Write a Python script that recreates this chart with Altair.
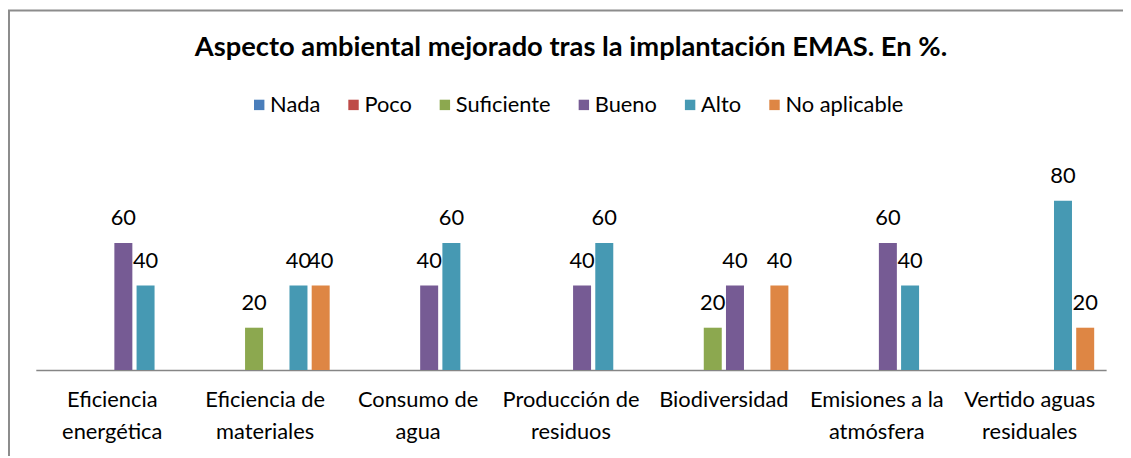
import altair as alt
import pandas as pd

categories = [
    "Eficiencia energética",
    "Eficiencia de materiales",
    "Consumo de agua",
    "Producción de residuos",
    "Biodiversidad",
    "Emisiones a la atmósfera",
    "Vertido aguas residuales",
]
wrapped = {
    "Eficiencia energética": ["Eficiencia", "energética"],
    "Eficiencia de materiales": ["Eficiencia de", "materiales"],
    "Consumo de agua": ["Consumo de", "agua"],
    "Producción de residuos": ["Producción de", "residuos"],
    "Biodiversidad": ["Biodiversidad"],
    "Emisiones a la atmósfera": ["Emisiones a la", "atmósfera"],
    "Vertido aguas residuales": ["Vertido aguas", "residuales"],
}
series = ["Nada", "Poco", "Suficiente", "Bueno", "Alto", "No aplicable"]
colors = ["#4A7EBB", "#BE4B48", "#8CA84F", "#765B94", "#4699B3", "#DE8644"]

nada = [0, 0, 0, 0, 0, 0, 0]
poco = [0, 0, 0, 0, 0, 0, 0]
suficiente = [0, 20, 0, 0, 20, 0, 0]
bueno = [60, 0, 40, 40, 40, 60, 0]
alto = [40, 40, 60, 60, 0, 40, 80]
no_aplicable = [0, 40, 0, 0, 40, 0, 20]

values = [nada, poco, suficiente, bueno, alto, no_aplicable]
rows = []
for s, vals in zip(series, values):
    for c, v in zip(categories, vals):
        rows.append({"categoria": c, "serie": s, "valor": v})
df = pd.DataFrame(rows)

FONT = "Lato"
label_expr = "{" + ", ".join(
    "'" + k + "': [" + ", ".join("'" + p + "'" for p in v) + "]" for k, v in wrapped.items()
) + "}[datum.label]"

x = alt.X(
    "categoria:N",
    sort=categories,
    scale=alt.Scale(paddingInner=0.156, paddingOuter=0.078),
    axis=alt.Axis(
        title=None,
        labelAngle=0,
        labelExpr=label_expr,
        labelFont=FONT,
        labelFontSize=22,
        labelColor="#000000",
        labelLineHeight=32,
        labelPadding=20,
        labelLimit=200,
        ticks=False,
        domainColor="#868686",
        domainWidth=1.5,
    ),
)
xoff = alt.XOffset("serie:N", sort=series, scale=alt.Scale(paddingInner=0.19, paddingOuter=0))
y = alt.Y("valor:Q", scale=alt.Scale(domain=[0, 100]), axis=None)

bars = alt.Chart(df).mark_bar().encode(
    x=x,
    xOffset=xoff,
    y=y,
    color=alt.Color(
        "serie:N",
        sort=series,
        scale=alt.Scale(domain=series, range=colors),
        legend=alt.Legend(
            title=None,
            orient="none",
            legendX=214,
            legendY=-65,
            direction="horizontal",
            columns=6,
            symbolType="square",
            symbolSize=110,
            symbolStrokeWidth=0,
            labelFont=FONT,
            labelFontSize=22,
            labelColor="#000000",
            labelOffset=0,
            columnPadding=22,
        ),
    ),
)

labels = alt.Chart(df).transform_filter("datum.valor > 0").mark_text(
    baseline="bottom", dy=-13, font=FONT, fontSize=22, color="#000000"
).encode(x=x, xOffset=xoff, y=y, text=alt.Text("valor:Q"))

border = alt.Chart(pd.DataFrame({"k": [0]})).mark_rule(color="#8C8C8C", strokeWidth=2).encode(
    x=alt.value(-27), y=alt.value(-149), y2=alt.value(300)
)
border_top = alt.Chart(pd.DataFrame({"k": [0]})).mark_rule(color="#8C8C8C", strokeWidth=2).encode(
    x=alt.value(-28), x2=alt.value(1100), y=alt.value(-149)
)

chart = (
    alt.layer(bars, labels, border, border_top)
    .properties(
        width=1078,
        height=213,
        autosize=alt.AutoSizeParams(type="none"),
        padding={"left": 28, "top": 150, "right": 17, "bottom": 85},
        background="#FFFFFF",
        title=alt.TitleParams(
            "Aspecto ambiental mejorado tras la implantación EMAS. En %.",
            font=FONT,
            fontSize=27.5,
            fontWeight="bold",
            color="#000000",
            anchor="middle",
            frame="group",
            offset=-52,
        ),
    )
    .configure_view(stroke="transparent", strokeWidth=0)
)

chart.save("out.html", embed_options={"renderer": "svg", "actions": False})
